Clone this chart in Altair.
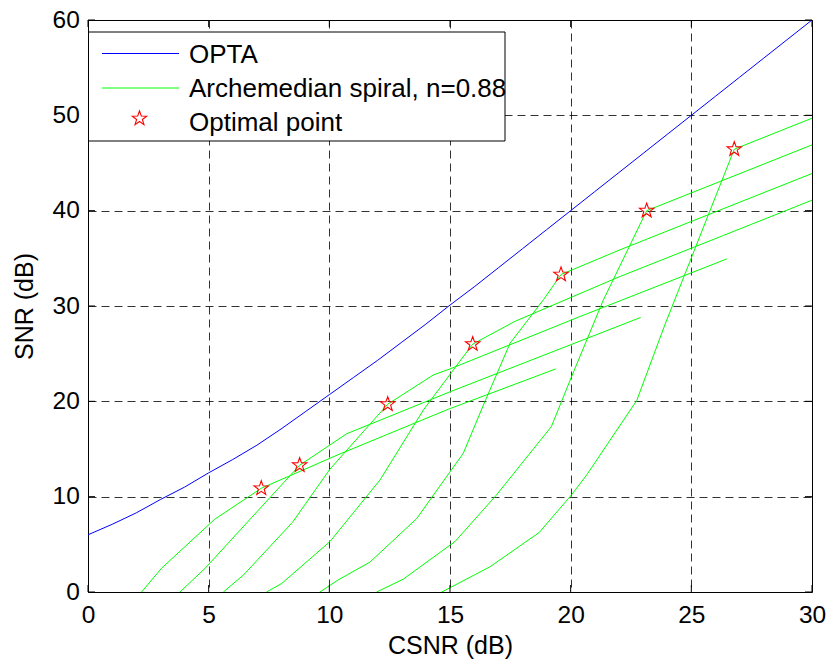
import math
import altair as alt
import pandas as pd

# ---------------- data ----------------
opta_x = [0, 1, 2, 3, 4, 5, 6, 7, 8, 9, 10, 11, 12, 13, 14, 15, 16, 17, 18, 19, 20,
          21, 22, 23, 24, 25, 26, 27, 28, 29, 30]
opta_y = [6.0, 7.1, 8.3, 9.7, 11.0, 12.5, 13.9, 15.4, 17.1, 18.9, 20.7, 22.5, 24.3,
          26.2, 28.1, 30.1, 32.0, 34.0, 36.0, 38.0, 40.0, 42.0, 44.0, 46.0, 48.0,
          50.0, 52.0, 54.0, 56.0, 58.0, 60.0]

c1_x = [2.22, 3.05, 5.25, 7.18, 10.36, 14.93, 19.38]
c1_y = [0.0, 2.5, 7.63, 10.88, 14.4, 19.17, 23.4]
c2_x = [3.81, 4.85, 8.77, 10.72, 15.0, 22.9]
c2_y = [0.0, 2.48, 13.3, 16.6, 21.0, 28.8]
c3_x = [5.61, 6.44, 8.47, 10.03, 12.42, 14.31, 15.0, 20.39, 26.47]
c3_y = [0.0, 1.78, 7.3, 12.9, 19.7, 22.77, 23.4, 28.9, 34.94]
c4_x = [7.40, 8.03, 10.03, 12.1, 13.9, 15.94, 17.7, 22.05, 26.33, 30.0]
c4_y = [0.0, 0.9, 5.3, 11.75, 19.1, 26.0, 28.4, 33.1, 37.4, 41.1]
c5_x = [9.61, 10.36, 11.69, 13.62, 15.55, 16.45, 17.49, 18.87, 19.6, 22.05, 30.0]
c5_y = [0.0, 1.26, 3.15, 7.7, 14.55, 20.0, 26.1, 30.65, 33.3, 35.9, 43.9]
c6_x = [11.96, 13.07, 15.21, 16.9, 19.2, 20.04, 21.35, 23.15, 30.0]
c6_y = [0.0, 1.36, 5.3, 10.1, 17.35, 22.6, 30.6, 40.0, 46.9]
c7_x = [14.66, 16.66, 18.7, 20.04, 20.67, 22.74, 23.9, 26.78, 30.0]
c7_y = [0.0, 2.65, 6.25, 10.2, 12.3, 20.1, 28.0, 46.45, 49.7]

star_x = [7.18, 8.77, 12.42, 15.94, 19.6, 23.15, 26.78]
star_y = [10.88, 13.3, 19.7, 26.0, 33.3, 40.0, 46.45]

x_ticks = [0, 5, 10, 15, 20, 25, 30]
y_ticks = [0, 10, 20, 30, 40, 50, 60]

legend_labels = ["OPTA", "Archemedian spiral, n=0.88", "Optimal point"]
x_title = "CSNR (dB)"
y_title = "SNR (dB)"

# ---------------- styling ----------------
W, H = 724, 572
FONT = "Liberation Sans"
BLUE, GREEN, RED = "#0000ff", "#00ff00", "#ff0000"

pts = []
for i in range(10):
    r = 1.0 if i % 2 == 0 else 0.40
    a = -math.pi / 2 + i * math.pi / 5
    pts.append(f"{r * math.cos(a):.3f},{r * math.sin(a):.3f}")
STAR = "M" + " L".join(pts) + " Z"

xs = alt.Scale(domain=[0, 30], nice=False, zero=False)
ys = alt.Scale(domain=[0, 60], nice=False, zero=False)

opta_df = pd.DataFrame({"x": opta_x, "y": opta_y})
rows = []
for k, (cx, cy) in enumerate([(c1_x, c1_y), (c2_x, c2_y), (c3_x, c3_y), (c4_x, c4_y),
                              (c5_x, c5_y), (c6_x, c6_y), (c7_x, c7_y)]):
    for j, (a, b) in enumerate(zip(cx, cy)):
        rows.append({"curve": k, "i": j, "x": a, "y": b})
curves_df = pd.DataFrame(rows)
stars_df = pd.DataFrame({"x": star_x, "y": star_y})
xt_df = pd.DataFrame({"v": x_ticks})
yt_df = pd.DataFrame({"v": y_ticks})
one_df = pd.DataFrame({"k": [0]})

x_axis = alt.Axis(values=x_ticks, title=x_title, grid=True, gridDash=[8, 5],
                  gridColor="#000000", gridOpacity=0.8, gridWidth=1, domain=False,
                  ticks=False, labelPadding=11, labelFontSize=24.5, labelFont=FONT,
                  labelColor="#000000", titleFont=FONT, titleFontSize=25,
                  titleFontWeight="normal", titleColor="#000000",
                  titleBaseline="alphabetic", titleY=61, labelFlush=False)
y_axis = alt.Axis(values=y_ticks, title=y_title, grid=True, gridDash=[8, 5],
                  gridColor="#000000", gridOpacity=0.8, gridWidth=1, domain=False,
                  ticks=False, labelPadding=8.7, labelFontSize=24.5, labelFont=FONT,
                  labelColor="#000000", titleFont=FONT, titleFontSize=25,
                  titleFontWeight="normal", titleColor="#000000",
                  titleBaseline="alphabetic", titleX=-56, labelFlush=False)

opta = alt.Chart(opta_df).mark_line(color=BLUE, strokeWidth=1, clip=True).encode(
    x=alt.X("x:Q", scale=xs, axis=x_axis),
    y=alt.Y("y:Q", scale=ys, axis=y_axis),
)
spiral = alt.Chart(curves_df).mark_line(color=GREEN, strokeWidth=1, clip=True).encode(
    x=alt.X("x:Q", scale=xs),
    y=alt.Y("y:Q", scale=ys),
    detail="curve:N",
    order="i:Q",
)
stars = alt.Chart(stars_df).mark_point(shape=STAR, filled=False, color=RED, size=230,
                                       strokeWidth=1.1, opacity=1, clip=True).encode(
    x=alt.X("x:Q", scale=xs),
    y=alt.Y("y:Q", scale=ys),
)

TL = 7
tick_b = alt.Chart(xt_df).mark_rule(color="black", strokeWidth=1).encode(
    x=alt.X("v:Q", scale=xs), y=alt.value(H), y2=alt.value(H - TL))
tick_t = alt.Chart(xt_df).mark_rule(color="black", strokeWidth=1).encode(
    x=alt.X("v:Q", scale=xs), y=alt.value(0), y2=alt.value(TL))
tick_l = alt.Chart(yt_df).mark_rule(color="black", strokeWidth=1).encode(
    y=alt.Y("v:Q", scale=ys), x=alt.value(0), x2=alt.value(TL))
tick_r = alt.Chart(yt_df).mark_rule(color="black", strokeWidth=1).encode(
    y=alt.Y("v:Q", scale=ys), x=alt.value(W), x2=alt.value(W - TL))

# legend box (MATLAB style, inside the top-left corner)
leg_box = alt.Chart(one_df).mark_rect(fill="white", stroke="black", strokeWidth=1).encode(
    x=alt.value(0.5), x2=alt.value(417), y=alt.value(12), y2=alt.value(121))
leg_l1 = alt.Chart(one_df).mark_rule(color=BLUE, strokeWidth=1).encode(
    x=alt.value(14), x2=alt.value(91), y=alt.value(33.5))
leg_l2 = alt.Chart(one_df).mark_rule(color=GREEN, strokeWidth=1).encode(
    x=alt.value(14), x2=alt.value(91), y=alt.value(68))
leg_s = alt.Chart(one_df).mark_point(shape=STAR, filled=False, color=RED, size=230,
                                     strokeWidth=1.1, opacity=1).encode(
    x=alt.value(51.5), y=alt.value(98.5))
leg_texts = []
for lbl, yy in zip(legend_labels, [34.5, 69, 103]):
    leg_texts.append(alt.Chart(pd.DataFrame({"label": [lbl]})).mark_text(
        align="left", baseline="middle", font=FONT, fontSize=26, fontWeight="normal",
        color="black").encode(
        x=alt.value(101), y=alt.value(yy), text="label:N"))

chart = alt.layer(opta, spiral, stars, tick_b, tick_t, tick_l, tick_r,
                  leg_box, leg_l1, leg_l2, leg_s, *leg_texts).properties(
    width=W, height=H,
    padding={"left": 88, "top": 20, "right": 16, "bottom": 70},
    autosize=alt.AutoSizeParams(type="none"),
    background="white",
).configure_view(stroke="black", strokeWidth=1)

chart.save("out.html", embed_options={"renderer": "svg", "actions": False})
